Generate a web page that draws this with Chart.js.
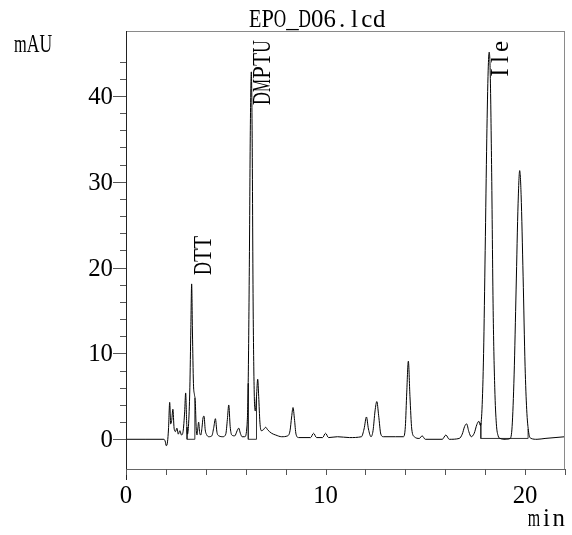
<!DOCTYPE html>
<html>
<head>
<meta charset="utf-8">
<script src="https://cdn.jsdelivr.net/npm/chart.js@4.4.0/dist/chart.umd.min.js"></script>
<style>
html, body { margin: 0; padding: 0; background: #fff; }
#wrap { width: 572px; height: 535px; }
</style>
</head>
<body>
<div id="wrap"><canvas id="chromChart" width="572" height="535"></canvas></div>
<script>
// retention time (min) and detector signal (mAU)
const times = [
    0, 1.0, 1.9, 1.96, 2.02, 2.08, 2.13, 2.19, 2.24, 2.29,
    2.35, 2.41, 2.48, 2.55, 2.62, 2.7, 2.78, 2.86, 2.94, 2.99,
    3.04, 3.08, 3.13, 3.2, 3.25, 3.29, 3.33, 3.38, 3.43, 3.47,
    3.52, 3.56, 3.6, 3.64, 3.69, 3.75, 3.81, 3.86, 3.91, 3.97,
    4.05, 4.15, 4.3, 4.4, 4.48, 4.56, 4.66, 4.85, 5.0, 5.08,
    5.15, 5.22, 5.3, 5.45, 5.57, 5.65, 5.73, 5.82, 5.95, 6.05,
    6.12, 6.18, 6.23, 6.28, 6.32, 6.37, 6.43, 6.48, 6.54, 6.6,
    6.65, 6.71, 6.78, 6.88, 7.0, 7.1, 7.3, 7.5, 7.8, 8.1,
    8.22, 8.3, 8.37, 8.44, 8.52, 8.65, 9.25, 9.4, 9.55, 9.85,
    10.0, 10.15, 10.6, 11.2, 11.8, 11.93, 12.05, 12.15, 12.28, 12.38,
    12.48, 12.57, 12.66, 12.77, 12.9, 13.5, 13.9, 14.0, 14.07, 14.15,
    14.23, 14.32, 14.45, 14.7, 14.84, 15.0, 15.85, 16.03, 16.2, 16.7,
    16.85, 16.97, 17.07, 17.18, 17.3, 17.45, 17.58, 17.68, 17.76, 17.84,
    17.92, 18.0, 18.08, 18.15, 18.2, 18.25, 18.32, 18.4, 18.48, 18.56,
    18.65, 18.75, 19.0, 19.25, 19.35, 19.45, 19.55, 19.65, 19.73, 19.8,
    19.9, 20.0, 20.08, 20.18, 20.3, 20.6, 21.0, 21.5, 22.0
];
const mAU = [
    0, 0, 0, -0.2, -0.75, -0.3, 1.2, 4.3, 1.8, 2.2,
    3.5, 1.3, 0.9, 1.3, 0.6, 1.0, 0.5, 0.9, 3.2, 5.4,
    2.0, 0.6, 1.5, 6.0, 13.0, 18.1, 12.5, 6.5, 5.2, 4.5,
    1.2, 0.5, 1.3, 2.0, 0.8, 0.5, 1.4, 2.5, 2.7, 1.1,
    0.5, 0.3, 0.4, 1.4, 2.4, 0.8, 0.4, 0.3, 0.6, 2.3,
    4.0, 1.5, 0.5, 0.4, 1.0, 1.3, 0.7, 0.3, 0.3, 1.2,
    6.0, 20.0, 36.0, 42.8, 36.0, 16.0, 5.0, 3.3, 5.0, 7.0,
    5.0, 2.0, 1.0, 1.1, 1.4, 1.1, 0.7, 0.5, 0.3, 0.4,
    1.0, 2.6, 3.7, 2.4, 0.6, 0.2, 0.2, 0.7, 0.2, 0.2,
    0.7, 0.2, 0.3, 0.2, 0.3, 1.2, 2.6, 1.2, 0.3, 1.0,
    3.3, 4.4, 2.8, 0.6, 0.3, 0.3, 0.3, 1.5, 5.5, 9.1,
    5.0, 1.2, 0.3, 0.1, 0.4, 0.0, 0.0, 0.5, 0.0, 0.1,
    0.6, 1.5, 1.8, 0.9, 0.3, 0.7, 1.7, 2.1, 1.6, 3.5,
    10.0, 22.0, 35.0, 43.0, 45.1, 43.0, 32.0, 15.0, 6.0, 1.8,
    0.4, 0.1, 0.0, 0.1, 1.5, 7.5, 17.5, 27.5, 31.3, 28.5,
    19.0, 8.5, 3.5, 0.8, 0.1, 0.0, 0.1, 0.2, 0.3
];

// integration baselines drawn under the named peaks (null = pen up)
const baseTimes  = [3.06, 3.06, 3.45, 3.45, null, 6.13, 6.13, 6.54, 6.54, null, 17.78, 17.78, 20.15, 20.15];
const baseValues = [1.4,  0.0,  0.0,  4.8,  null, 6.5,  0.0,  0.0,  5.0,  null, 1.9,   0.1,   0.1,   1.2];

// named peaks
const peakNames = ['DTT', 'DMPTU', 'Ile'];
const peakTimes = [3.29, 6.28, 18.2];
const peakHeights = [18.1, 42.8, 45.1];

// tick labels
const xTickLabels = ['0', '10', '20'];
const yTickLabels = ['0', '10', '20', '30', '40'];

const FONT = '25px "Liberation Serif"';
const CELL = 12.4;

// draw text in fixed-width cells, like the instrument software font
function monoText(ctx, text, x, y, cell){
    for(let i = 0; i < text.length; i++){
        const ch = text[i];
        const w = Math.min(ctx.measureText(ch).width, cell);
        ctx.fillText(ch, x + i * cell + (cell - w) / 2, y, cell);
    }
}

const decorations = {
    id: 'decorations',
    afterDraw(chart){
        const ctx = chart.ctx;
        const area = chart.chartArea;
        const xs = chart.scales.x;
        const ys = chart.scales.y;
        ctx.save();

        // frame: top and right in grey
        ctx.strokeStyle = '#8a8a8a';
        ctx.lineWidth = 1;
        ctx.beginPath();
        ctx.moveTo(area.left, area.top + 0.5);
        ctx.lineTo(area.right, area.top + 0.5);
        ctx.moveTo(area.right - 0.5, area.top);
        ctx.lineTo(area.right - 0.5, area.bottom);
        ctx.stroke();

        // bottom axis
        ctx.strokeStyle = '#666';
        ctx.beginPath();
        ctx.moveTo(area.left, area.bottom + 0.5);
        ctx.lineTo(area.right, area.bottom + 0.5);
        ctx.stroke();

        // left axis, runs a little below the x axis
        ctx.strokeStyle = '#222';
        ctx.beginPath();
        ctx.moveTo(area.left + 0.5, area.top);
        ctx.lineTo(area.left + 0.5, area.bottom + 11);
        ctx.stroke();

        // y ticks: every 2, long ones every 10
        ctx.strokeStyle = '#555';
        ctx.beginPath();
        for(const t of ys.ticks){
            const v = t.value;
            if(Math.abs(v / 2 - Math.round(v / 2)) > 1e-6) continue;
            const py = Math.round(ys.getPixelForValue(v)) + 0.5;
            const len = Math.abs(v % 10) < 1e-6 ? 13 : 6;
            ctx.moveTo(area.left - len, py);
            ctx.lineTo(area.left, py);
        }
        // x ticks: every 2 min
        for(const t of xs.ticks){
            const px = Math.round(xs.getPixelForValue(t.value)) + 0.5;
            ctx.moveTo(px, area.bottom);
            ctx.lineTo(px, area.bottom + 6);
        }
        ctx.stroke();

        ctx.fillStyle = '#000';
        ctx.font = FONT;
        ctx.textAlign = 'left';
        ctx.textBaseline = 'alphabetic';

        // y tick labels, right aligned against the long tick
        for(const lab of yTickLabels){
            const py = ys.getPixelForValue(Number(lab));
            const w = lab.length * CELL;
            monoText(ctx, lab, area.left - 13 - w, py + 8, CELL);
        }
        // x tick labels centred under the ticks
        for(const lab of xTickLabels){
            const px = xs.getPixelForValue(Number(lab));
            const w = lab.length * CELL;
            monoText(ctx, lab, px - w / 2, 503, CELL);
        }

        // title and axis units
        monoText(ctx, 'EPO_D06.lcd', 249, 27, CELL);
        monoText(ctx, 'mAU', 14, 52, 12.7);
        monoText(ctx, 'min', area.right - 3 * CELL, 526, CELL);

        // peak names, rotated, pushed down when they would leave the frame
        for(let i = 0; i < peakNames.length; i++){
            const name = peakNames[i];
            const len = name.length * 13;
            const px = xs.getPixelForValue(peakTimes[i]);
            const py = ys.getPixelForValue(peakHeights[i]);
            const bottom = Math.max(py - 9, area.top + 9 + len);
            ctx.save();
            ctx.translate(px + 19, bottom);
            ctx.rotate(-Math.PI / 2);
            monoText(ctx, name, 0, 0, 13);
            ctx.restore();
        }

        ctx.restore();
    }
};

var chromChart = new Chart(
    document.getElementById('chromChart'),
    {
        type: 'line',
        data: {
            datasets: [
                {
                    data: times.map((t, i) => ({x: t, y: mAU[i]})),
                    borderColor: '#000',
                    borderWidth: 1,
                    pointRadius: 0,
                    fill: false,
                    cubicInterpolationMode: 'monotone'
                },
                {
                    data: baseTimes.map((t, i) => ({x: t, y: baseValues[i]})),
                    borderColor: '#333',
                    borderWidth: 1,
                    pointRadius: 0,
                    fill: false,
                    tension: 0,
                    spanGaps: false
                }
            ]
        },
        options: {
            responsive: false,
            animation: false,
            devicePixelRatio: 1,
            layout: {
                padding: {top: 31, right: 7, left: 0, bottom: 0}
            },
            plugins: {
                legend: {display: false},
                tooltip: {enabled: false}
            },
            scales: {
                x: {
                    type: 'linear',
                    min: 0,
                    max: 22,
                    ticks: {stepSize: 2, display: false},
                    grid: {display: false, drawTicks: false},
                    border: {display: false},
                    afterFit: function(scale){ scale.height = 66; }
                },
                y: {
                    type: 'linear',
                    min: -3.46,
                    max: 47.56,
                    ticks: {stepSize: 2, display: false},
                    grid: {display: false, drawTicks: false},
                    border: {display: false},
                    afterFit: function(scale){ scale.width = 126; }
                }
            }
        },
        plugins: [decorations]
    }
);
</script>
</body>
</html>
